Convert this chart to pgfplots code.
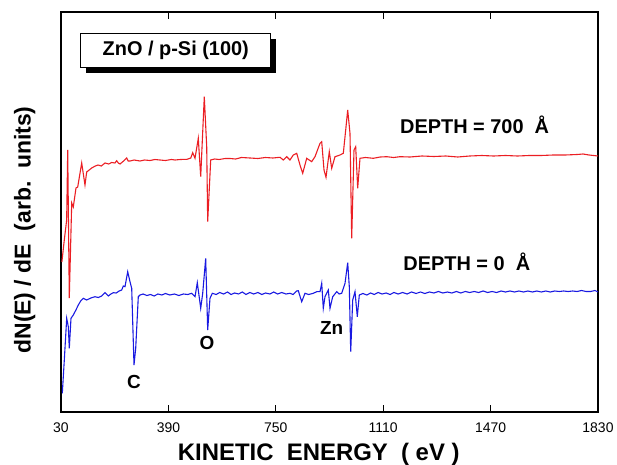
\documentclass[border=0pt]{standalone}
\usepackage{pgfplots}
\pgfplotsset{compat=1.18}
\usepackage{fontspec}
\setmainfont{Liberation Sans}
\usetikzlibrary{shadows}

\definecolor{augred}{RGB}{235,30,35}
\definecolor{augblue}{RGB}{25,25,225}

\begin{document}
\begin{tikzpicture}
\useasboundingbox (-61bp,-53bp) rectangle (556bp,412bp);
\begin{axis}[
    scale only axis,
    width=537bp, height=400bp,
    xmin=30, xmax=1830,
    ymin=0, ymax=400,
    xtick={30,390,750,1110,1470,1830},
    ytick=\empty,
    tick align=inside,
    major tick length=7bp,
    xtick pos=both,
    axis line style={line width=1.3pt},
    every tick/.style={line width=1.1pt, black},
    /pgf/number format/assume math mode=true,
    /pgf/number format/1000 sep={},
    xticklabel style={font=\fontsize{14}{16}\selectfont, yshift=-7bp},
    xlabel={\textbf{KINETIC\ \ ENERGY\ \ ( eV )}},
    xlabel style={font=\fontsize{24}{28}\selectfont, at={(ticklabel cs:0.48)}, anchor=near ticklabel, yshift=-4bp},
    ylabel={\textbf{dN(E) / dE\ \ (arb.\ \ units)}},
    ylabel style={font=\fontsize{23}{26}\selectfont, at={(axis description cs:0,0.455)}, yshift=22bp},
    clip=false
]

% depth = 700 A
\addplot[augred, line width=1.1pt] coordinates {
(33,150)(41,172)(49,192)(52.5,262)(57.8,114)(65.9,209)(71.2,205)(80.3,224)(86.0,225)
(99.4,249)(110.4,227)(116.1,240)(132.9,244)(145,246)(154,247)(165,246)(177.5,249)
(190,248)(200,249.5)(211,249)(216.7,251.3)(222,249)(227.8,248)(240,251)(250.2,254)
(255,251)(261.3,251)(275,252)(294.8,251)(310,252)(328.3,251.5)(345,252.5)(361.8,252)
(380,251.5)(400,252.5)(412,252)(430,252.5)(452.4,252.7)(465,254)(471.5,259.3)
(479.2,253.7)(490.2,273.7)(498.3,235.3)(510.3,315.3)(518.4,265.3)(521.7,190.3)
(531.8,252)(545,253)(560,252.5)(580,253.5)(596.5,253.5)(615,253)(635,254.5)
(663.5,254)(690,253.5)(715,254.5)(740,254)(764.1,254.7)(775.1,252)(786.5,255.3)
(797.6,252)(808.6,257)(820.1,258.7)(831.1,247)(840.2,238.7)(853.6,253.7)(870.3,250.3)
(881.4,255.3)(898.2,268.7)(903.9,270.3)(911.6,242)(918.3,234.7)(929.3,260.3)
(937.4,243.7)(948.4,255.3)(965.2,257)(976.3,258.7)(984.3,282)(991.0,302)(998.7,278.7)
(1004.4,173.7)(1012.1,262)(1017.8,265.3)(1024.5,223.7)(1032.2,253.7)(1050,254.5)
(1076.8,253.7)(1100,255)(1121.7,255.3)(1145,254.5)(1166.3,255.3)(1200,255)(1240,256)
(1280,255.5)(1320,256)(1360,255)(1400,256)(1440,256.5)(1480,256)(1520,256.5)
(1560,256)(1600,256.5)(1640,256.5)(1680,257)(1720,257)(1760,257.5)(1780,258)
(1800,257)(1830,256)
};

% depth = 0 A
\addplot[augblue, line width=1.1pt] coordinates {
(34.4,18.7)(41.1,52)(49.1,93.7)(54.5,85.3)(57.8,63.7)(63.5,93.7)(71.2,97)(80,102)
(88.0,107)(96,111)(104.7,113.7)(116.1,112)(130,114)(144.0,115.3)(155,114.5)(166.4,116)
(177.5,119.3)(188.6,116)(197,118)(205.3,119.3)(215,119)(225,121)(233.5,122)
(238.8,126)(244.5,125.3)(253.6,140.3)(261.3,130.3)(267.0,123.7)(274.7,47)(280.4,63.7)
(289.1,115.3)(294.8,117)(305,118)(318,116.5)(330,117.5)(342,116)(355,118)(368,117)
(380,118.5)(395,117)(410,118)(425,116.5)(440,118)(455,117.5)(468.1,118.7)
(479.2,115.3)(486.9,129.3)(498.3,103.7)(505.0,118.7)(515.0,153.7)(521.7,82)
(529.4,113.7)(537.2,118.7)(550,117.5)(562,119.5)(575,118)(588,120)(600,117.5)
(612,119)(625,118)(638,120)(650,117.5)(663,119.5)(676,118)(690,119.5)(703,117.5)
(716,119)(730,118)(743,120)(756,118)(770,119.5)(784,118)(797.6,118.7)(808,117.5)
(820.1,121)(825.4,121.3)(836.8,110.3)(847.9,118.7)(860,117.5)(875.7,118.7)
(887.1,120.3)(898.2,120.3)(903.9,128.7)(909.2,103.7)(914.9,115.3)(926.0,122)
(931.7,103.7)(940.7,115.3)(954.2,120.3)(962,118)(970.9,118.7)(982.0,128.7)
(991.0,149.3)(996.4,125.3)(1001.1,60.3)(1007.8,112)(1015.5,120.3)(1023.2,95.3)
(1029.9,117)(1042,118.5)(1055,117)(1068,119)(1080,117.5)(1093,119.5)(1106,118)
(1120,119)(1133,117.5)(1146,119.5)(1160,118)(1175,119.5)(1190,118)(1205,120)
(1220,118.5)(1235,120)(1250,118.5)(1265,120)(1280,119)(1295,120.5)(1310,119)
(1325,120)(1340,119)(1355,120.5)(1370,119)(1385,120.5)(1400,119.5)(1415,120.5)
(1430,119.5)(1445,121)(1460,119.5)(1475,120.5)(1490,119.5)(1505,121)(1520,120)
(1535,121)(1550,120)(1565,121)(1580,120)(1595,121)(1610,120)(1625,121)(1640,120)
(1655,121)(1670,120)(1685,121)(1700,120.5)(1715,121)(1730,120.5)(1745,121)
(1760,120.5)(1775,121.5)(1790,120.5)(1805,120.5)(1820,121.5)(1830,120)
};

\node[draw=black, line width=1pt, fill=white, minimum width=190bp, minimum height=34bp,
      drop shadow={shadow xshift=5bp, shadow yshift=-5bp, fill=black, opacity=1},
      font=\fontsize{20}{24}\selectfont\bfseries]
      at (axis cs:414.8,361.5) {ZnO / p-Si (100)};

\node[anchor=west, font=\fontsize{20}{24}\selectfont\bfseries] at (axis cs:1155,287) {DEPTH = 700\ \ Å};
\node[anchor=west, font=\fontsize{20}{24}\selectfont\bfseries] at (axis cs:1166,150.3) {DEPTH = 0\ \ Å};
\node[font=\fontsize{19}{22}\selectfont\bfseries] at (axis cs:274.7,30.3) {C};
\node[font=\fontsize{19}{22}\selectfont\bfseries] at (axis cs:519.4,68.7) {O};
\node[font=\fontsize{19}{22}\selectfont\bfseries] at (axis cs:937.4,83.7) {Zn};

\end{axis}
\end{tikzpicture}
\end{document}
